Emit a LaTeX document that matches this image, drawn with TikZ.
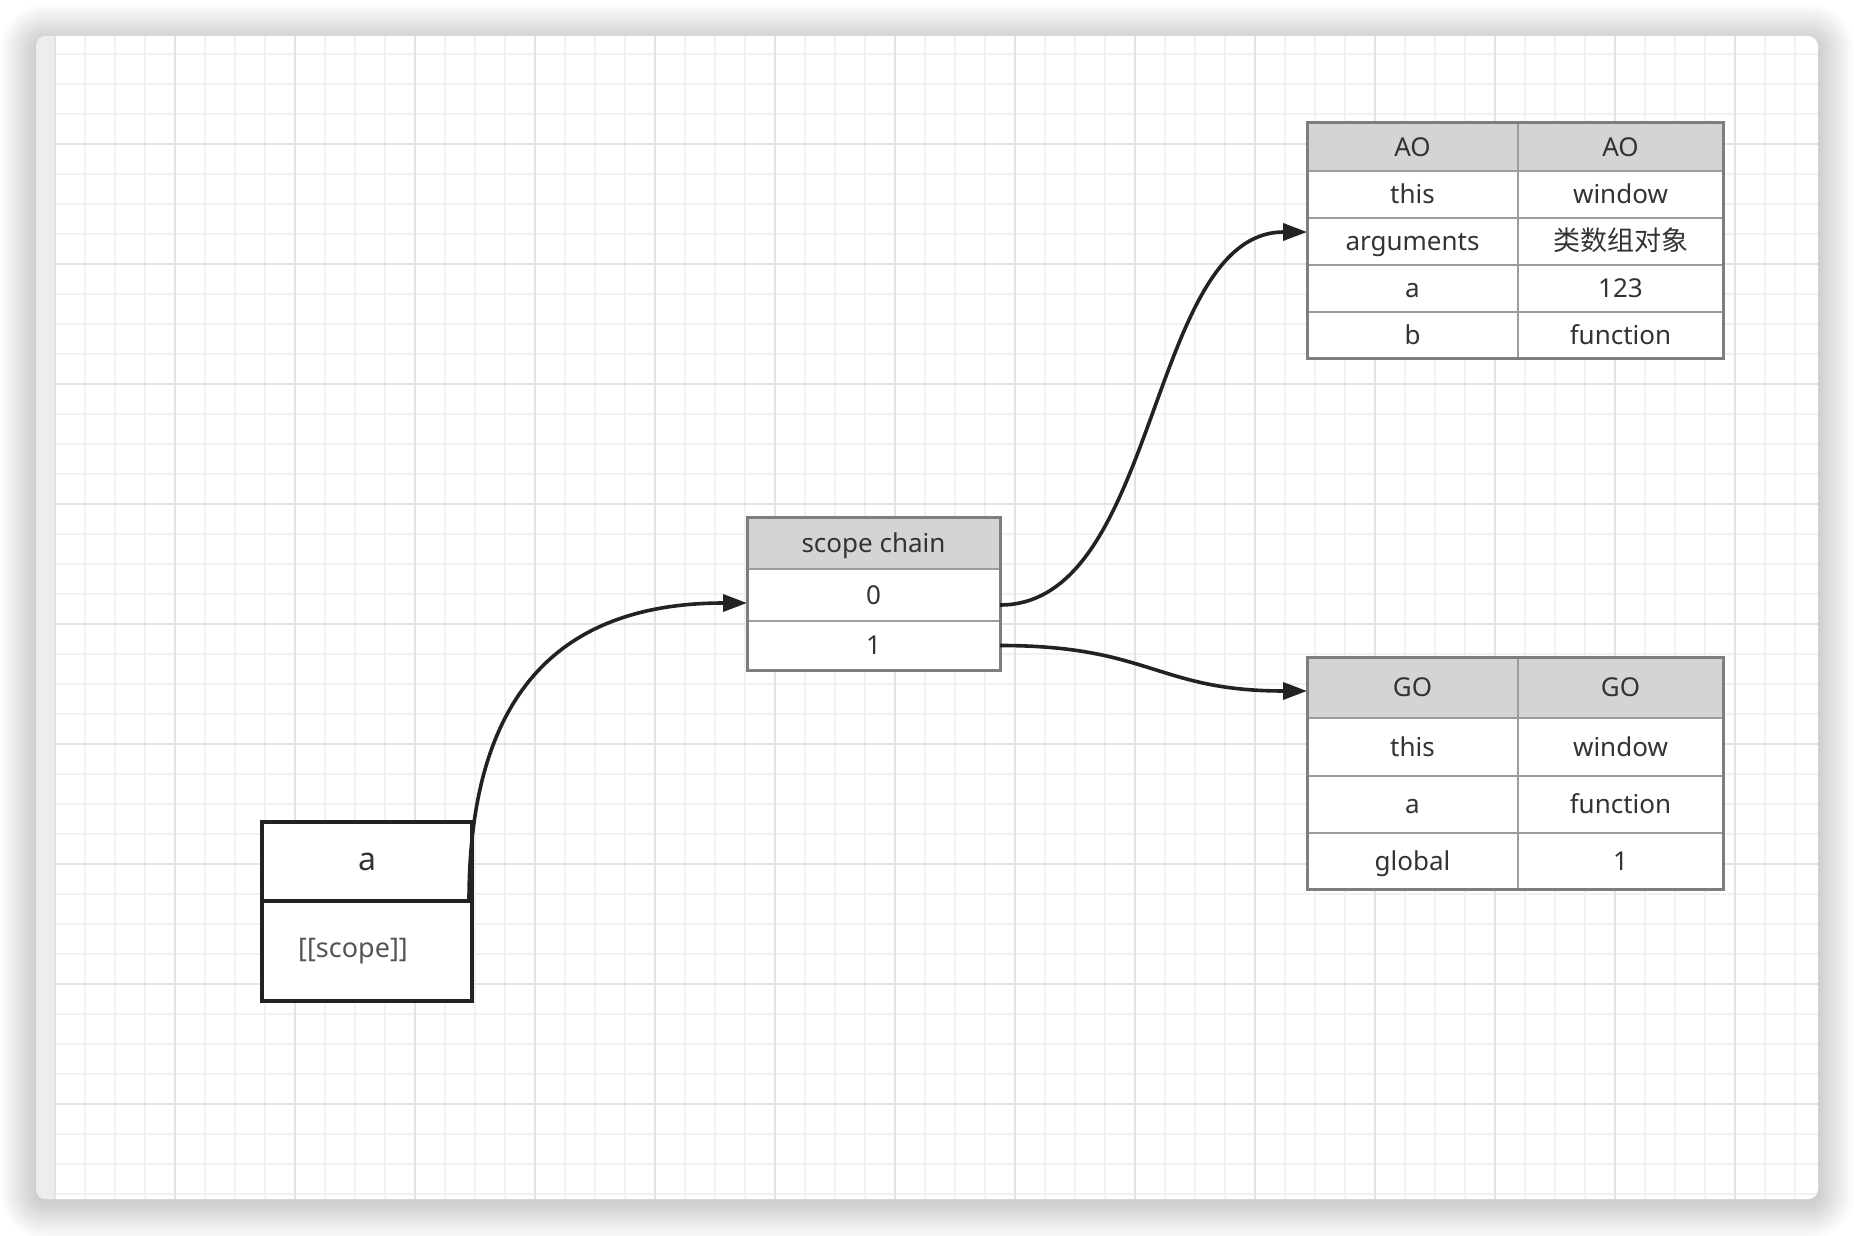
\documentclass[tikz,border=0pt]{standalone}
\usepackage{fontspec}
\setmainfont{Noto Sans}
\newfontfamily\cjk{Noto Sans CJK SC}
\usetikzlibrary{arrows.meta}

\definecolor{gridminor}{HTML}{F1F1F1}
\definecolor{gridmajor}{HTML}{E3E3E3}
\definecolor{strip}{HTML}{EDEDED}
\definecolor{hdr}{HTML}{D4D4D4}
\definecolor{tborder}{HTML}{7E7E7E}
\definecolor{tline}{HTML}{9C9C9C}
\definecolor{ink}{HTML}{333333}
\definecolor{softink}{HTML}{555555}
\definecolor{wire}{HTML}{222222}

\tikzset{
  cellb/.style={draw=tline, line width=1pt, inner sep=0pt, outer sep=0pt,
    anchor=north west, text=ink, text height=9.3pt, text depth=0pt,
    font=\fontsize{13}{15}\selectfont},
  hdrcell/.style={cellb, fill=hdr},
  bodycell/.style={cellb, fill=white},
  tframe/.style={draw=tborder, line width=1.5pt},
  objbox/.style={draw=wire, line width=2pt, fill=white, inner sep=0pt,
    outer sep=0pt, anchor=north west, text=ink},
  wire/.style={draw=wire, line width=1.8pt,
    -{Triangle[length=12pt,width=8.5pt]}},
}

\begin{document}
\begin{tikzpicture}[x=0.5pt,y=-0.5pt]
\useasboundingbox (0,0) rectangle (1854,1236);

% soft window shadow, a little heavier below
\foreach \i [evaluate=\i as \r using 5+0.75*\i] in {1,...,24}
  \fill[black, opacity=0.0085, rounded corners=\r pt]
    (36-1.5*\i,40-1.5*\i) rectangle (1818+1.5*\i,1203+1.5*\i);

% window canvas
\fill[white, rounded corners=5pt] (36,36) rectangle (1818,1199);
\begin{scope}
  \clip[rounded corners=5pt] (36,36) rectangle (1818,1199);
  \fill[strip] (36,36) rectangle (55,1199);
  % minor grid
  \foreach \x in {85,115,...,1795}
    \draw[gridminor, line width=1pt] (\x,36) -- (\x,1199);
  \foreach \y in {54,84,...,1194}
    \draw[gridminor, line width=1pt] (55,\y) -- (1818,\y);
  % major grid
  \foreach \x in {55,175,...,1735}
    \draw[gridmajor, line width=1pt] (\x,36) -- (\x,1199);
  \foreach \y in {144,264,...,1104}
    \draw[gridmajor, line width=1pt] (55,\y) -- (1818,\y);
\end{scope}

% activation object table
\node[hdrcell,  minimum width=105.5pt, minimum height=24pt]   (aoK0) at (1307,123) {AO};
\node[hdrcell,  minimum width=102.5pt, minimum height=24pt]   (aoV0) at (1518,123) {AO};
\node[bodycell, minimum width=105.5pt, minimum height=23.5pt] (aoK1) at (1307,171) {this};
\node[bodycell, minimum width=102.5pt, minimum height=23.5pt] (aoV1) at (1518,171) {window};
\node[bodycell, minimum width=105.5pt, minimum height=23.5pt] (aoK2) at (1307,218) {arguments};
\node[bodycell, minimum width=102.5pt, minimum height=23.5pt] (aoV2) at (1518,218)
  {\cjk\fontsize{13.5}{15}\selectfont 类数组对象};
\node[bodycell, minimum width=105.5pt, minimum height=23.5pt] (aoK3) at (1307,265) {a};
\node[bodycell, minimum width=102.5pt, minimum height=23.5pt] (aoV3) at (1518,265) {123};
\node[bodycell, minimum width=105.5pt, minimum height=23pt]   (aoK4) at (1307,312) {b};
\node[bodycell, minimum width=102.5pt, minimum height=23pt]   (aoV4) at (1518,312) {function};
\draw[tframe] (aoK0.north west) rectangle (aoV4.south east);

% global object table
\node[hdrcell,  minimum width=105.5pt, minimum height=30.5pt] (goK0) at (1307,657) {GO};
\node[hdrcell,  minimum width=102.5pt, minimum height=30.5pt] (goV0) at (1518,657) {GO};
\node[bodycell, minimum width=105.5pt, minimum height=29pt]   (goK1) at (1307,718) {this};
\node[bodycell, minimum width=102.5pt, minimum height=29pt]   (goV1) at (1518,718) {window};
\node[bodycell, minimum width=105.5pt, minimum height=28.5pt] (goK2) at (1307,776) {a};
\node[bodycell, minimum width=102.5pt, minimum height=28.5pt] (goV2) at (1518,776) {function};
\node[bodycell, minimum width=105.5pt, minimum height=28pt]   (goK3) at (1307,833) {global};
\node[bodycell, minimum width=102.5pt, minimum height=28pt]   (goV3) at (1518,833) {1};
\draw[tframe] (goK0.north west) rectangle (goV3.south east);

% scope chain
\node[hdrcell,  minimum width=126.5pt, minimum height=26pt]   (scH) at (747,517) {scope chain};
\node[bodycell, minimum width=126.5pt, minimum height=26pt]   (sc0) at (747,569) {0};
\node[bodycell, minimum width=126.5pt, minimum height=24.5pt] (sc1) at (747,621) {1};
\draw[tframe] (scH.north west) rectangle (sc1.south east);

% function object a
\node[objbox, minimum width=105pt, minimum height=39.5pt,
      font=\fontsize{16}{18}\selectfont] (aTop) at (262,822) {a};
\node[objbox, minimum width=105pt, minimum height=50pt] (aBot) at (262,901) {};
\node[text=softink, font=\fontsize{13.5}{15}\selectfont, inner sep=0pt,
      xshift=-7pt] (aScope) at (aBot.center) {[[scope]]};

% connectors
\draw[wire] ([xshift=-1.5pt]aTop.south east)
  .. controls +(0,-210) and +(-185,0) .. ([yshift=-4pt]sc0.west);
\draw[wire] ([yshift=-5pt]sc0.east)
  .. controls +(160,0) and +(-160,0) .. ([yshift=4.75pt]aoK2.west);
\draw[wire] (sc1.east)
  .. controls +(150,0) and +(-150,0) .. ([yshift=-1.75pt]goK0.west);
\end{tikzpicture}
\end{document}
